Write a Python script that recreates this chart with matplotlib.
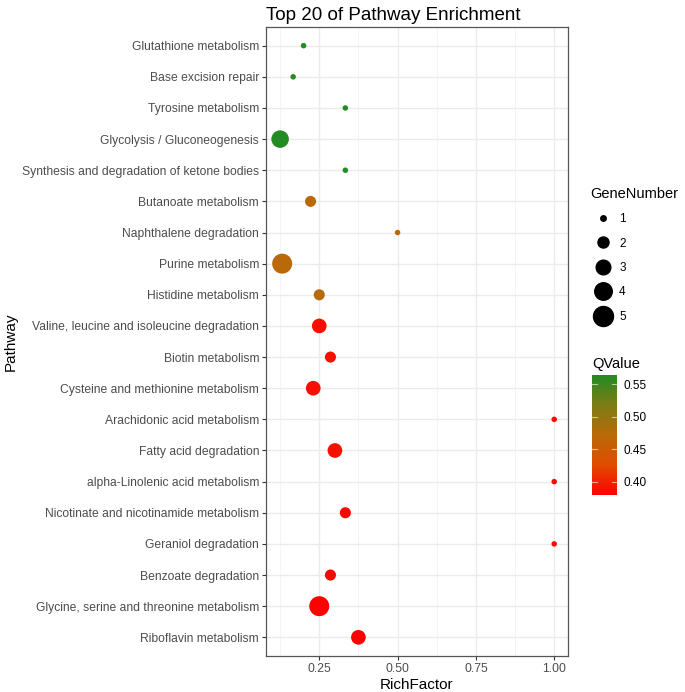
import numpy as np
import matplotlib
matplotlib.use("Agg")
import matplotlib.pyplot as plt
from matplotlib.colors import LinearSegmentedColormap, Normalize
from matplotlib.lines import Line2D

plt.rcParams['font.family'] = ['Liberation Sans', 'DejaVu Sans']

# data (top row first)
pathways = ["Glutathione metabolism", "Base excision repair", "Tyrosine metabolism",
            "Glycolysis / Gluconeogenesis", "Synthesis and degradation of ketone bodies",
            "Butanoate metabolism", "Naphthalene degradation", "Purine metabolism",
            "Histidine metabolism", "Valine, leucine and isoleucine degradation",
            "Biotin metabolism", "Cysteine and methionine metabolism",
            "Arachidonic acid metabolism", "Fatty acid degradation",
            "alpha-Linolenic acid metabolism", "Nicotinate and nicotinamide metabolism",
            "Geraniol degradation", "Benzoate degradation",
            "Glycine, serine and threonine metabolism", "Riboflavin metabolism"]
rich_factor = [0.2, 0.1667, 0.3333, 0.125, 0.3333, 0.2222, 0.5, 0.1316, 0.25, 0.25,
               0.2857, 0.2308, 1.0, 0.3, 1.0, 0.3333, 1.0, 0.2857, 0.25, 0.375]
gene_number = [1, 1, 1, 4, 1, 2, 1, 5, 2, 3, 2, 3, 1, 3, 1, 2, 1, 2, 5, 3]
qvalue = [0.564, 0.564, 0.564, 0.564, 0.564, 0.47, 0.47, 0.47, 0.47, 0.39,
          0.39, 0.39, 0.385, 0.39, 0.385, 0.385, 0.385, 0.385, 0.38, 0.38]

qmin, qmax = 0.380, 0.564
cmap = LinearSegmentedColormap.from_list(
    "rg", ["#ff0000", "#e04c00", "#b86a08", "#7d7c14", "#228b22"])
norm = Normalize(qmin, qmax)

def msize(n):
    return 15.7 + (np.asarray(n) - 1) * 47.9

W, H = 685, 692
fig = plt.figure(figsize=(W / 100, H / 100), dpi=100)
ax = fig.add_axes([266 / W, 36 / H, 302 / W, 629 / H])

ypos = np.arange(len(pathways))[::-1]
ax.scatter(rich_factor, ypos, s=msize(gene_number), c=qvalue, cmap=cmap, norm=norm,
           linewidths=0, zorder=3)

ax.set_xlim(0.08, 1.044)
ax.set_ylim(-0.6, len(pathways) - 0.4)
ax.set_yticks(ypos)
ax.set_yticklabels(pathways)
ax.set_xticks([0.25, 0.5, 0.75, 1.0])
ax.set_xticklabels(["0.25", "0.50", "0.75", "1.00"])
ax.set_xticks([0.125, 0.375, 0.625, 0.875], minor=True)
ax.grid(True, which="major", color="#ebebeb", lw=1.0, zorder=0)
ax.grid(True, which="minor", axis="x", color="#f2f2f2", lw=0.6, zorder=0)
ax.set_axisbelow(True)
ax.tick_params(axis="both", which="major", length=3, width=0.8, color="#333333",
               labelsize=8.75, labelcolor="#4d4d4d", pad=2)
ax.tick_params(axis="x", which="minor", length=0)
for sp in ax.spines.values():
    sp.set_color("#555555")
    sp.set_linewidth(0.9)

ax.set_xlabel("RichFactor", fontsize=11, labelpad=2)
ax.set_ylabel("Pathway", fontsize=11, labelpad=3)
ax.set_title("Top 20 of Pathway Enrichment", fontsize=13.5, pad=5, loc="left")

# size legend
handles = [Line2D([], [], ls="", marker="o", color="black",
                  markersize=np.sqrt(msize(n))) for n in [1, 2, 3, 4, 5]]
fig.legend(handles, ["1", "2", "3", "4", "5"], title="GeneNumber",
           loc="upper left", bbox_to_anchor=(586 / W, 1 - 182 / H),
           frameon=False, fontsize=8.5, title_fontsize=10.5,
           labelspacing=1.05, handletextpad=0.4, alignment="left",
           borderaxespad=0)

# colorbar
cax = fig.add_axes([592 / W, 1 - 495 / H, 25 / W, 120 / H])
cb = fig.colorbar(plt.cm.ScalarMappable(norm=norm, cmap=cmap), cax=cax)
cb.set_ticks([0.40, 0.45, 0.50, 0.55])
cb.set_ticklabels(["0.40", "0.45", "0.50", "0.55"])
cb.outline.set_visible(False)
cb.ax.tick_params(length=0, labelsize=8.5, pad=5)
for t in [0.40, 0.45, 0.50, 0.55]:
    cax.plot([0, 0.2], [t, t], color="white", lw=0.8, alpha=0.6)
    cax.plot([0.8, 1], [t, t], color="white", lw=0.8, alpha=0.6)
cax.set_xlim(0, 1)
fig.text(592 / W, 1 - 364 / H, "QValue", fontsize=10.5, va="center", ha="left")

fig.savefig("out.png", dpi=100)
